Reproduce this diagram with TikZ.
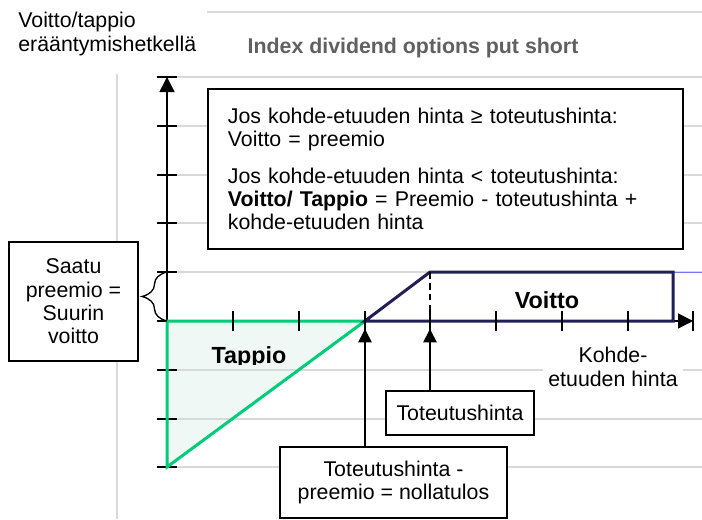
\documentclass[tikz,border=0pt]{standalone}
\usepackage{fontspec}
\setmainfont{Liberation Sans}
\usepackage{xcolor}
\usetikzlibrary{arrows.meta,decorations.pathreplacing}
\definecolor{gridgray}{RGB}{217,217,217}
\definecolor{titlegray}{RGB}{96,96,96}
\definecolor{lossgreen}{RGB}{0,204,122}
\definecolor{lossfill}{RGB}{239,248,244}
\definecolor{gainnavy}{RGB}{34,30,86}

\begin{document}
\begin{tikzpicture}[x=0.6pt, y=-0.6pt, font=\fontsize{12.8}{14}\selectfont,
  gridln/.style={draw=gridgray, line width=0.9pt},
  box/.style={draw, line width=1.1pt, fill=white, align=center, inner sep=0pt},
  bold/.style={font=\fontsize{12.8}{14}\selectfont\bfseries},
  arealab/.style={font=\fontsize{14}{16}\selectfont\bfseries},
  axarr/.style={-{Triangle[length=9pt,width=9pt]}, line width=1pt},
  arr/.style={-{Triangle[length=8pt,width=8pt]}, line width=1.1pt}]
\useasboundingbox (0,0) rectangle (702,519);

% frame of the chart
\draw[gridln] (207,12) -- (702,12);
\draw[gridln] (117,74) -- (117,519);

% loss area
\fill[lossfill] (167,321) -- (365,321) -- (167,467) -- cycle;

\foreach \y in {77,126,175,223,272,370,419,467}
  \draw[gridln] (177,\y) -- (702,\y);
\draw[blue!55, line width=0.4pt] (673,272) -- (702,272);

% axes
\draw[axarr] (167,467) -- (167,77);
\draw[axarr] (167,321) -- (693,321);
\foreach \y in {77,126,175,223,272,321,370,419,467}
  \draw[line width=1pt] (157,\y) -- (177,\y);

% payoff
\draw[lossgreen, line width=1.8pt] (167,321) -- (365,321) -- (167,467) -- cycle;
\draw[gainnavy, line width=1.8pt] (365,321) -- (430,272) -- (673,272) -- (673,321) -- cycle;
\draw[line width=1.4pt, dash pattern=on 4pt off 2.5pt] (430,272) -- (430,321);
\foreach \x in {233,299,365,430,496,562,628,693}
  \draw[line width=1pt] (\x,311) -- (\x,331);

\draw[line width=0.8pt, decorate, decoration={brace, amplitude=15pt}] (167,321) -- (167,272);

% texts
\node[anchor=north west, align=left, inner sep=0pt] (ylab) at (18,12) {Voitto/tappio\\erääntymishetkellä};
\node[bold, text=titlegray, anchor=base] (title) at (413,53) {Index dividend options put short};

\node[box, anchor=north west, minimum width=285pt, minimum height=96pt,
  text width=261pt, align=left] (ehto) at (207,88)
  {Jos kohde-etuuden hinta ≥ toteutushinta:\\
   Voitto = preemio\\[8pt]
   Jos kohde-etuuden hinta < toteutushinta:\\
   \textbf{Voitto/ Tappio} = Preemio - toteutushinta +\\
   kohde-etuuden hinta};

\node[box, minimum width=77.4pt, minimum height=71.4pt] (saatu) at (73.5,301.5)
  {Saatu\\preemio =\\Suurin\\voitto};

\begin{scope}
  \clip (167,330) rectangle (365,364);
  \node[arealab, anchor=base] (tappio) at (249,363) {Tappio};
\end{scope}
\node[arealab, anchor=base] (voitto) at (547,308) {Voitto};

\node[fill=white, align=center, inner xsep=3pt, inner ysep=2pt] (kohde) at (613,367)
  {Kohde-\\etuuden hinta};

\node[box, minimum width=88.8pt, minimum height=26.4pt] (strike) at (460,413) {Toteutushinta};
\node[box, minimum width=136.2pt, minimum height=42.6pt] (nolla) at (393.5,482.5)
  {Toteutushinta -\\preemio = nollatulos};

\coordinate (be) at (365,329);
\coordinate (st) at (430,329);
\draw[arr] (nolla.north -| be) -- (be);
\draw[arr] (strike.north -| st) -- (st);
\end{tikzpicture}
\end{document}
